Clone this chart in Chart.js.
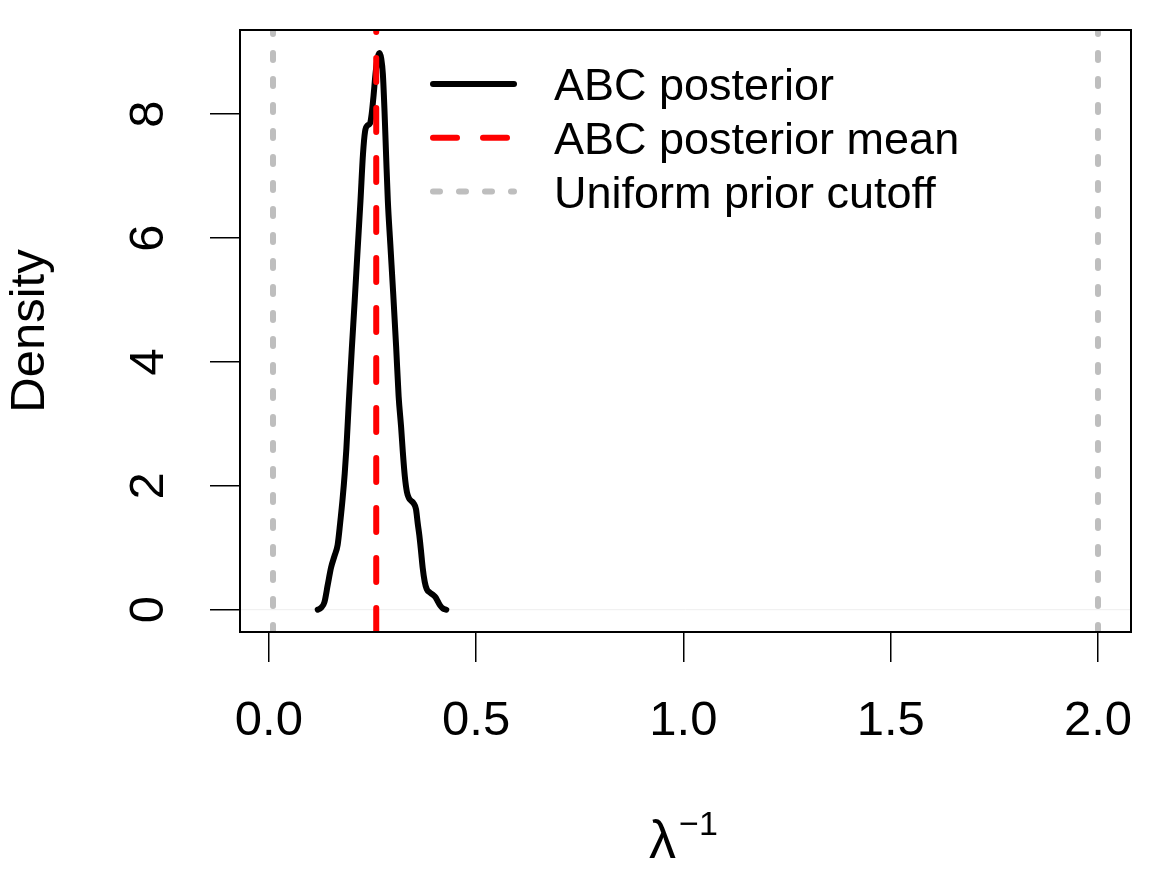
<!DOCTYPE html>
<html>
<head>
<meta charset="utf-8">
<script src="https://cdn.jsdelivr.net/npm/chart.js@4/dist/chart.umd.min.js"></script>
<style>
  html, body { margin: 0; padding: 0; background: #ffffff; }
  #wrap { width: 1162px; height: 873px; }
</style>
</head>
<body>
<div id="wrap"><canvas id="c" width="1162" height="873"></canvas></div>
<script>
// ---- data ----
const densityX = [0.118, 0.126, 0.134, 0.142, 0.150, 0.158, 0.166, 0.172, 0.178, 0.183,
  0.187, 0.193, 0.200, 0.207, 0.214, 0.221, 0.227, 0.232, 0.238, 0.244,
  0.248, 0.252, 0.258, 0.263, 0.267, 0.271, 0.275, 0.279, 0.283, 0.287,
  0.293, 0.300, 0.307, 0.313, 0.319, 0.323, 0.328, 0.333, 0.338, 0.343,
  0.349, 0.355, 0.359, 0.363, 0.367, 0.371, 0.376, 0.381, 0.388, 0.396,
  0.402, 0.407, 0.413, 0.420, 0.428];
const densityY = [0.00, 0.03, 0.12, 0.40, 0.68, 0.86, 1.05, 1.40, 1.80, 2.20,
  2.60, 3.37, 4.20, 4.98, 5.80, 6.60, 7.35, 7.72, 7.82, 7.85,
  8.00, 8.26, 8.70, 8.93, 8.99, 8.90, 8.65, 8.05, 7.30, 6.60,
  5.90, 5.10, 4.25, 3.45, 2.95, 2.56, 2.15, 1.90, 1.80, 1.76,
  1.72, 1.62, 1.40, 1.20, 0.95, 0.68, 0.45, 0.33, 0.28, 0.24,
  0.20, 0.14, 0.07, 0.02, 0.00];
const posteriorMean = 0.259;
const priorCutoffs = [0.01, 2.0];
const xTicks = [0, 0.5, 1.0, 1.5, 2.0];
const yTicks = [0, 2, 4, 6, 8];
const xRange = [-0.0696, 2.0796];
const yRange = [-0.36, 9.36];
const legendLabels = ['ABC posterior', 'ABC posterior mean', 'Uniform prior cutoff'];
const yTitle = 'Density';
const xTitleBase = 'λ';
const xTitleSup = '\u22121';

// ---- build datasets ----
const FONT = '"Liberation Sans", Arial, Helvetica, sans-serif';
const curve = densityX.map((x, i) => ({ x: x, y: densityY[i] }));
const vline = (x) => [{ x: x, y: yRange[0] }, { x: x, y: yRange[1] }];

const datasets = [
  { label: 'zero', data: [{ x: xRange[0], y: 0 }, { x: xRange[1], y: 0 }],
    borderColor: '#eeeeee', borderWidth: 1, order: 5 },
  { label: legendLabels[0], data: curve, borderColor: '#000000', borderWidth: 6,
    cubicInterpolationMode: 'monotone',
    borderCapStyle: 'round', borderJoinStyle: 'round', order: 4 },
  { label: legendLabels[1], data: vline(posteriorMean), borderColor: '#ff0000', borderWidth: 6,
    borderDash: [24, 26], borderCapStyle: 'round', order: 3 },
  { label: legendLabels[2], data: vline(priorCutoffs[0]), borderColor: '#bebebe', borderWidth: 6,
    borderDash: [7, 19], borderCapStyle: 'round', order: 2 },
  { label: legendLabels[2] + ' 2', data: vline(priorCutoffs[1]), borderColor: '#bebebe', borderWidth: 6,
    borderDash: [7, 19], borderCapStyle: 'round', order: 2 }
];

const legendStyles = [
  { color: '#000000', dash: [] },
  { color: '#ff0000', dash: [24, 26] },
  { color: '#bebebe', dash: [7, 19] }
];

const decor = {
  id: 'decor',
  afterDraw(chart) {
    const ctx = chart.ctx;
    const a = chart.chartArea;
    ctx.save();
    // plot box
    ctx.strokeStyle = '#000';
    ctx.lineWidth = 2;
    ctx.setLineDash([]);
    ctx.strokeRect(a.left, a.top, a.right - a.left, a.bottom - a.top);
    // legend
    ctx.font = '45px ' + FONT;
    ctx.textAlign = 'left';
    ctx.textBaseline = 'alphabetic';
    legendLabels.forEach((lab, i) => {
      const y = 84 + i * 53.8;
      const st = legendStyles[i];
      ctx.beginPath();
      ctx.strokeStyle = st.color;
      ctx.lineWidth = 6;
      ctx.lineCap = 'round';
      ctx.setLineDash(st.dash);
      ctx.moveTo(433, y);
      ctx.lineTo(514, y);
      ctx.stroke();
      ctx.setLineDash([]);
      ctx.fillStyle = '#000';
      ctx.fillText(lab, 554, y + 16);
    });
    // x axis title with superscript
    const cx = (a.left + a.right) / 2;
    ctx.font = '54px ' + FONT;
    const wBase = ctx.measureText(xTitleBase).width;
    ctx.font = '34px ' + FONT;
    const wSup = ctx.measureText(xTitleSup).width;
    const total = wBase + 3 + wSup;
    const x0 = cx - total / 2 - 2;
    ctx.fillStyle = '#000';
    ctx.font = '54px ' + FONT;
    ctx.fillText(xTitleBase, x0, 858);
    ctx.font = '34px ' + FONT;
    ctx.fillText(xTitleSup, x0 + wBase + 3, 835);
    ctx.restore();
  }
};

function fixY(scale) { scale.width = 240; scale.paddingTop = 0; scale.paddingBottom = 0; scale.paddingLeft = 0; scale.paddingRight = 0; }
function fixX(scale) { scale.height = 241; scale.paddingLeft = 0; scale.paddingRight = 0; scale.paddingTop = 0; scale.paddingBottom = 0; }

new Chart(document.getElementById('c'), {
  type: 'scatter',
  data: { datasets: datasets },
  options: {
    responsive: false,
    animation: false,
    devicePixelRatio: 1,
    showLine: true,
    elements: { point: { radius: 0, hoverRadius: 0 }, line: { tension: 0 } },
    layout: { padding: { top: 30, right: 31, left: 0, bottom: 0 } },
    plugins: { legend: { display: false }, tooltip: { enabled: false } },
    scales: {
      x: {
        type: 'linear', position: 'bottom',
        min: xRange[0], max: xRange[1],
        afterBuildTicks: (s) => { s.ticks = xTicks.map(v => ({ value: v })); },
        afterFit: fixX,
        ticks: {
          color: '#000', font: { family: FONT, size: 49, lineHeight: 1 },
          padding: 35, maxRotation: 0, minRotation: 0, autoSkip: false,
          callback: (v) => Number(v).toFixed(1)
        },
        grid: { drawOnChartArea: false, drawTicks: true, tickLength: 30, color: '#000', lineWidth: 1.5 },
        border: { display: false }
      },
      y: {
        type: 'linear', position: 'left',
        min: yRange[0], max: yRange[1],
        afterBuildTicks: (s) => { s.ticks = yTicks.map(v => ({ value: v })); },
        afterFit: fixY,
        ticks: {
          color: '#000', font: { family: FONT, size: 49, lineHeight: 1 },
          padding: 47, minRotation: 90, maxRotation: 90, crossAlign: 'center', autoSkip: false,
          callback: (v) => String(v)
        },
        grid: { drawOnChartArea: false, drawTicks: true, tickLength: 30, color: '#000', lineWidth: 1.5 },
        border: { display: false },
        title: { display: true, text: yTitle, color: '#000',
          font: { family: FONT, size: 49, lineHeight: 1.2 }, padding: { top: 1, bottom: 0 } }
      }
    }
  },
  plugins: [decor]
});
</script>
</body>
</html>
